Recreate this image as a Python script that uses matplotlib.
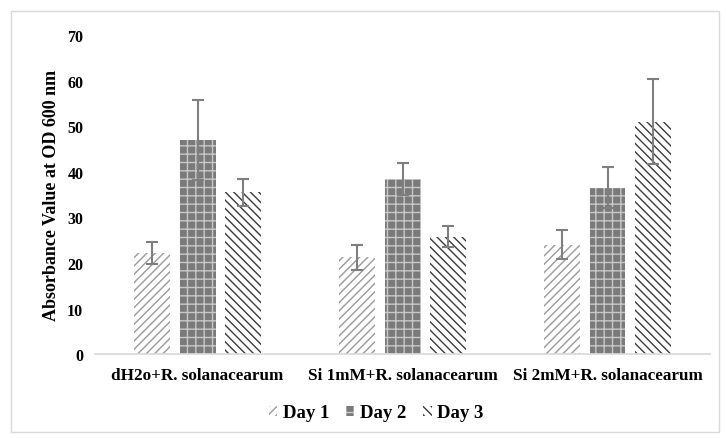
import numpy as np
import matplotlib
matplotlib.use("Agg")
import matplotlib.pyplot as plt
from matplotlib.patches import Rectangle

plt.rcParams["font.family"] = ["Liberation Serif", "DejaVu Serif"]
plt.rcParams["font.weight"] = "bold"
plt.rcParams["hatch.linewidth"] = 1.0

categories = ["dH2o+R. solanacearum", "Si 1mM+R. solanacearum", "Si 2mM+R. solanacearum"]
series = ["Day 1", "Day 2", "Day 3"]
day1 = [22.2, 21.2, 24.0]
day2 = [47.0, 38.4, 36.5]
day3 = [35.5, 25.8, 51.0]
err1 = [2.4, 2.8, 3.2]
err2 = [8.7, 3.5, 4.5]
err3 = [2.9, 2.3, 9.3]
yticks = [0, 10, 20, 30, 40, 50, 60, 70]

values = [day1, day2, day3]
errors = [err1, err2, err3]
# facecolor, hatch colour, hatch pattern
styles = [("white", "#9a9a9a", "////"),
          ("#7a7a7a", "#c8c8c8", "++"),
          ("white", "#3a3a3a", "\\\\\\\\")]

fig = plt.figure(figsize=(7.26, 4.39), dpi=100)
ax = fig.add_axes([0.131, 0.191, 0.847, 0.727])

x = np.arange(len(categories))
width = 0.175
step = 0.222
for i, (vals, errs) in enumerate(zip(values, errors)):
    fc, hc, hatch = styles[i]
    pos = x + (i - 1) * step
    ax.bar(pos, vals, width, color=fc, edgecolor=hc, hatch=hatch,
           linewidth=0, label=series[i])
    ax.errorbar(pos, vals, yerr=errs, fmt="none",
                ecolor="#7f7f7f", elinewidth=1.5, capsize=4, capthick=1.5)

ax.set_xlim(-0.5, 2.5)
ax.set_ylim(0, 70)
ax.set_yticks(yticks)
ax.set_yticklabels([str(t) for t in yticks], fontsize=11.5, fontweight="bold")
ax.set_xticks(x)
ax.set_xticklabels(categories, fontsize=12.3, fontweight="bold")
ax.tick_params(axis="both", length=0)
ax.tick_params(axis="y", pad=8.5)
ax.tick_params(axis="x", pad=9)
for side in ["top", "right", "left"]:
    ax.spines[side].set_visible(False)
ax.spines["bottom"].set_color("#d9d9d9")
ax.spines["bottom"].set_linewidth(1.2)

ax.set_ylabel("Absorbance Value at OD 600 nm", fontsize=13, fontweight="bold",
              labelpad=5)

fig.legend(loc="center", bbox_to_anchor=(0.518, 0.057), ncol=3, frameon=False,
           handlelength=0.45, handleheight=0.45, handletextpad=0.3,
           columnspacing=0.9, prop={"weight": "bold", "size": 13.5})

# chart area border
fig.patches.append(Rectangle((0.015, 0.014), 0.976, 0.958, transform=fig.transFigure,
                             fill=False, edgecolor="#d9d9d9", linewidth=1))

fig.savefig("out.png", dpi=100)
